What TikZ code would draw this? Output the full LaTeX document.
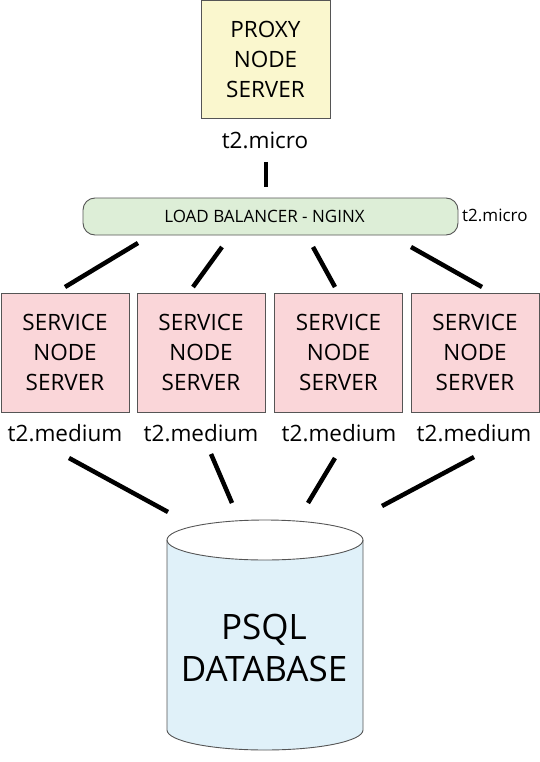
\documentclass[tikz,border=0pt]{standalone}
\usepackage{fontspec}
\setmainfont{Open Sans}
\definecolor{proxyfill}{RGB}{250,247,206}
\definecolor{lbfill}{RGB}{221,238,215}
\definecolor{svcfill}{RGB}{250,214,217}
\definecolor{dbfill}{RGB}{224,241,249}
\definecolor{edge}{RGB}{85,85,85}
\begin{document}
\begin{tikzpicture}[x=1pt,y=-1pt,
  box/.style={draw=edge, line width=0.9pt, align=center, inner sep=0pt,
    font=\fontsize{22.5}{30}\selectfont},
  proxybox/.style={box, fill=proxyfill, minimum width=129pt, minimum height=118pt},
  svcbox/.style={box, fill=svcfill, minimum width=128pt, minimum height=119pt},
  lbbox/.style={draw=edge, line width=0.9pt, fill=lbfill, rounded corners=12pt,
    minimum width=375pt, minimum height=37pt, inner sep=0pt,
    font=\fontsize{17}{18}\selectfont},
  lbl/.style={inner sep=0pt, font=\fontsize{22.5}{24}\selectfont},
  smalllbl/.style={inner sep=0pt, font=\fontsize{17}{18}\selectfont},
  conn/.style={line width=4.5pt, black},
  dbtext/.style={align=center, inner sep=0pt, font=\fontsize{35}{42}\selectfont}
]
\useasboundingbox (0,0) rectangle (540,762);

% proxy
\node[proxybox] (proxy) at (265.5,59) {PROXY\\NODE\\SERVER};
\node[lbl] (pl) at (265,140) {t2.micro};

% load balancer
\node[lbbox] (lb) at (270.5,216.5) {\hspace*{-12pt}LOAD BALANCER - NGINX};
\node[smalllbl, anchor=west] (lbl2) at (462,215) {t2.micro};

% service nodes
\node[svcbox] (s1) at (65,352.5) {SERVICE\\NODE\\SERVER};
\node[svcbox] (s2) at (201,352.5) {SERVICE\\NODE\\SERVER};
\node[svcbox] (s3) at (338.5,352.5) {SERVICE\\NODE\\SERVER};
\node[svcbox] (s4) at (475,352.5) {SERVICE\\NODE\\SERVER};
\node[lbl] (m1) at (65,433) {t2.medium};
\node[lbl] (m2) at (201,433) {t2.medium};
\node[lbl] (m3) at (339,433) {t2.medium};
\node[lbl] (m4) at (474,433) {t2.medium};

% database cylinder
\fill[dbfill] (167,540) -- (167,730) arc (180:0:98 and 20) -- (363,540) arc (0:180:98 and 20) -- cycle;
\draw[edge, line width=0.9pt] (167,540) -- (167,730) arc (180:0:98 and 20) -- (363,540);
\draw[edge, line width=0.9pt] (265,540) ellipse (98 and 20);
\node[dbtext] (db) at (264,648) {PSQL\\DATABASE};

% connector end points
\coordinate (p-a) at (266,162); \coordinate (p-b) at (266,187);
\coordinate (l1a) at (138,243); \coordinate (l1b) at (65,287);
\coordinate (l2a) at (222,247); \coordinate (l2b) at (193,287);
\coordinate (l3a) at (313,247); \coordinate (l3b) at (335,287);
\coordinate (l4a) at (411,247); \coordinate (l4b) at (482,287);
\coordinate (d1a) at (69,458); \coordinate (d1b) at (168,512);
\coordinate (d2a) at (211,454); \coordinate (d2b) at (232,503);
\coordinate (d3a) at (335,458); \coordinate (d3b) at (308,503);
\coordinate (d4a) at (474,457); \coordinate (d4b) at (382,506);

\draw[conn] (p-a) -- (p-b);
\draw[conn] (l1a) -- (l1b);
\draw[conn] (l2a) -- (l2b);
\draw[conn] (l3a) -- (l3b);
\draw[conn] (l4a) -- (l4b);
\draw[conn] (d1a) -- (d1b);
\draw[conn] (d2a) -- (d2b);
\draw[conn] (d3a) -- (d3b);
\draw[conn] (d4a) -- (d4b);
\end{tikzpicture}
\end{document}
